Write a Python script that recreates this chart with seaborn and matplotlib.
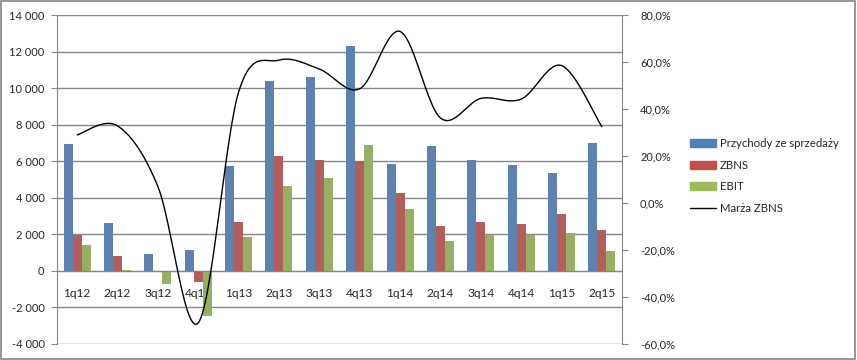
import numpy as np
import pandas as pd
import seaborn as sns
import matplotlib
matplotlib.use("Agg")
import matplotlib.pyplot as plt
from matplotlib.patches import Rectangle
from matplotlib.ticker import FuncFormatter, MultipleLocator
from matplotlib.lines import Line2D

# dane
kwartaly = ["1q12", "2q12", "3q12", "4q12", "1q13", "2q13", "3q13",
            "4q13", "1q14", "2q14", "3q14", "4q14", "1q15", "2q15"]
przychody = [6930, 2600, 900, 1170, 5720, 10370, 10590,
             12290, 5830, 6810, 6050, 5770, 5330, 6980]
zbns = [1970, 790, 20, -600, 2700, 6270, 6050,
        5990, 4240, 2480, 2650, 2540, 3090, 2260]
ebit = [1440, 70, -730, -2450, 1830, 4620, 5060,
        6870, 3360, 1610, 1950, 1990, 2050, 1110]
marza = [29.0, 32.8, 7.0, -51.0, 47.2, 60.8, 57.0,
         48.6, 73.0, 36.2, 44.5, 44.2, 58.5, 32.5]

serie = ["Przychody ze sprzedaży", "ZBNS", "EBIT"]
kolory = ["#4F81BD", "#C0504D", "#9BBB59"]
szary = "#868686"

df = pd.DataFrame({"kwartal": kwartaly * 3,
                   "wartosc": przychody + zbns + ebit,
                   "seria": [s for s in serie for _ in kwartaly]})

sns.set_style("white")
plt.rcParams["font.family"] = ["Lato", "DejaVu Sans"]

fig = plt.figure(figsize=(8.57, 3.6), dpi=100)
ax = fig.add_axes([57 / 857, 16 / 360, 565 / 857, 329 / 360])

sns.barplot(data=df, x="kwartal", y="wartosc", hue="seria", palette=kolory,
            width=0.67, gap=0, errorbar=None, linewidth=0, ax=ax)
ax.get_legend().remove()
ax.set_xlim(-0.5, 13.5)
ax.set_ylim(-4000, 14000)
ax.yaxis.set_major_locator(MultipleLocator(2000))
ax.yaxis.set_major_formatter(FuncFormatter(lambda v, p: f"{int(v):,}".replace(",", " ")))
ax.grid(axis="y", color=szary, lw=1)
ax.set_axisbelow(True)
ax.set_xlabel("")
ax.set_ylabel("")

for s in ["top", "right"]:
    ax.spines[s].set_visible(False)
ax.spines["left"].set_color(szary)
ax.spines["bottom"].set_position(("data", 0))
ax.spines["bottom"].set_color(szary)
ax.tick_params(axis="y", length=4, color=szary, labelsize=8, pad=5)
ax.tick_params(axis="x", which="major", length=0, labelsize=8.6, pad=12)
ax.set_xticks(np.arange(-0.5, 14, 1), minor=True)
ax.tick_params(axis="x", which="minor", length=4, color=szary)

# linia marży - wygładzona jak w Excelu (Catmull-Rom)
ax2 = ax.twinx()
px = np.arange(len(marza), dtype=float)
py = np.array(marza)
xs, ys = [], []
for i in range(len(px) - 1):
    i0, i3 = max(i - 1, 0), min(i + 2, len(px) - 1)
    c1x = px[i] + (px[i + 1] - px[i0]) / 6
    c1y = py[i] + (py[i + 1] - py[i0]) / 6
    c2x = px[i + 1] - (px[i3] - px[i]) / 6
    c2y = py[i + 1] - (py[i3] - py[i]) / 6
    t = np.linspace(0, 1, 30)
    xs.extend((1 - t) ** 3 * px[i] + 3 * (1 - t) ** 2 * t * c1x + 3 * (1 - t) * t ** 2 * c2x + t ** 3 * px[i + 1])
    ys.extend((1 - t) ** 3 * py[i] + 3 * (1 - t) ** 2 * t * c1y + 3 * (1 - t) * t ** 2 * c2y + t ** 3 * py[i + 1])
ax2.plot(xs, ys, color="black", lw=1)
ax2.set_ylim(-60, 80)
ax2.yaxis.set_major_locator(MultipleLocator(20))
ax2.yaxis.set_major_formatter(FuncFormatter(lambda v, p: f"{v:.1f}%".replace(".", ",")))
for s in ["top", "left", "bottom"]:
    ax2.spines[s].set_visible(False)
ax2.spines["right"].set_color(szary)
ax2.tick_params(axis="y", length=4, color=szary, labelsize=8, pad=9)
ax2.grid(False)

uchwyty = [Rectangle((0, 0), 1, 1, color=c) for c in kolory]
uchwyty.append(Line2D([], [], color="black", lw=1))
fig.legend(uchwyty, serie + ["Marża ZBNS"], loc="upper left",
           bbox_to_anchor=(684 / 857, 1 - 132 / 360), frameon=False,
           fontsize=8.2, handlelength=2.35, handleheight=0.7, handletextpad=0.3,
           labelspacing=0.95, borderpad=0)

fig.patches.append(Rectangle((0.001, 0.002), 0.997, 0.995, transform=fig.transFigure,
                             fill=False, edgecolor=szary, lw=1.2))
fig.savefig("out.png", dpi=100)
